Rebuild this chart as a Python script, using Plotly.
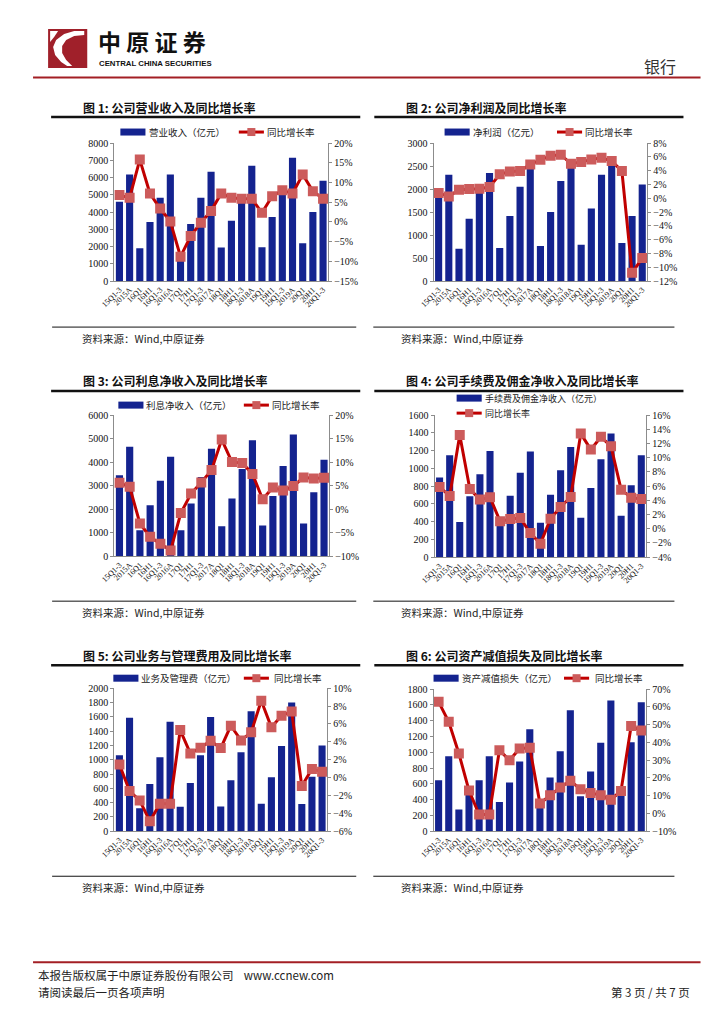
import plotly.graph_objects as go

W, H = 724, 1024
# target-pixel -> paper conversion (compensates the page placement seen in the render)
SX, OX = 0.977, 22.0
SY, OY = 0.988, 14.0
def X(px): return ((px - OX) / SX) / W
def Y(py): return 1 - ((py - OY) / SY) / H

cats = ["15Q1-3", "2015A", "16Q1", "16H1", "16Q1-3", "2016A", "17Q1", "17H1", "17Q1-3", "2017A",
        "18Q1", "18H1", "18Q1-3", "2018A", "19Q1", "19H1", "19Q1-3", "2019A", "20Q1", "20H1", "20Q1-3"]

revenue = [4600, 6170, 1900, 3420, 4830, 6170, 1500, 3310, 4830, 6330, 1940, 3500, 4950, 6690, 1960, 3710, 5300, 7150, 2190, 4000, 5810]
revenue_g = [6.8, 6.1, 15.8, 7.2, 3.4, 0.1, -8.8, -3.6, -0.2, 2.8, 7.2, 6.1, 5.9, 5.9, 2.3, 6.5, 8.0, 7.2, 12.0, 7.8, 5.9]

profit = [1850, 2310, 700, 1355, 1950, 2350, 717, 1413, 2051, 2450, 761, 1500, 2174, 2500, 790, 1580, 2312, 2717, 826, 1413, 2101]
profit_g = [0.75, 0.27, 1.24, 1.33, 1.38, 1.62, 3.46, 3.89, 3.94, 4.9, 5.58, 6.16, 6.31, 5.0, 5.24, 5.63, 5.87, 5.39, 3.94, -10.8, -8.66]

nii = [3445, 4650, 1100, 2163, 3209, 4226, 1100, 2235, 3367, 4570, 1275, 2450, 3711, 4928, 1304, 2564, 3840, 5172, 1390, 2722, 4097]
nii_g = [5.6, 4.75, -3.06, -5.9, -7.35, -8.78, -0.84, 3.31, 5.68, 8.3, 14.8, 10.0, 9.8, 7.5, 2.1, 4.6, 3.96, 4.9, 6.75, 6.5, 6.7]

fee = [896, 1148, 395, 685, 934, 1197, 360, 693, 952, 1190, 388, 704, 979, 1242, 444, 779, 1103, 1393, 467, 809, 1148]
fee_g = [5.88, 4.61, 13.2, 5.6, 4.1, 4.42, 1.04, 1.36, 1.5, -0.6, -2.1, 1.4, 3.06, 4.47, 13.4, 11.15, 12.94, 11.6, 5.5, 4.38, 4.19]

opex = [1063, 1588, 323, 660, 1035, 1532, 342, 674, 1063, 1597, 347, 712, 1105, 1677, 384, 754, 1190, 1799, 379, 763, 1199]
opex_g = [1.46, -1.5, -2.55, -4.87, -2.92, -2.92, 5.32, 2.7, 3.33, 4.12, 3.3, 5.8, 4.16, 5.06, 8.6, 5.62, 6.93, 7.38, -0.94, 0.97, 0.64]

impair = [646, 951, 275, 480, 646, 951, 372, 617, 883, 1293, 320, 680, 1014, 1534, 444, 756, 1120, 1656, 500, 1128, 1635]
impair_g = [62.9, 51.6, 33.8, 12.9, -0.6, -0.6, 35.6, 30.0, 36.6, 37.0, 5.6, 10.3, 14.6, 18.4, 13.7, 11.6, 10.3, 7.8, 12.7, 49.3, 46.7]

titles = ["图 1: 公司营业收入及同比增长率", "图 2: 公司净利润及同比增长率",
          "图 3: 公司利息净收入及同比增长率", "图 4: 公司手续费及佣金净收入及同比增长率",
          "图 5: 公司业务与管理费用及同比增长率", "图 6: 公司资产减值损失及同比增长率"]
bar_names = ["营业收入（亿元）", "净利润（亿元）", "利息净收入（亿元）",
             "手续费及佣金净收入（亿元）", "业务及管理费（亿元）", "资产减值损失（亿元）"]
line_name = "同比增长率"
source_text = "资料来源：Wind,中原证券"

BAR = "#14238f"
LINE = "#c00000"
MK = "#cc5b5b"
SERIF = "Liberation Serif"
CJK = "Noto Sans CJK SC"

charts = [
    dict(bar=revenue, g=revenue_g, l=(0, 8000, 1000), r=(-15, 20, 5), dom=(114, 327, 143, 281),
         leg=[(120, 132, 148), (238, 132, 265)]),
    dict(bar=profit, g=profit_g, l=(0, 3000, 500), r=(-12, 8, 2), dom=(432, 645, 143, 281),
         leg=[(443, 132, 470), (555, 132, 582)]),
    dict(bar=nii, g=nii_g, l=(0, 6000, 1000), r=(-10, 20, 5), dom=(114, 328, 415, 556),
         leg=[(118, 405, 145), (243, 405, 270)]),
    dict(bar=fee, g=fee_g, l=(0, 1600, 200), r=(-4, 16, 2), dom=(433, 644, 415, 557),
         leg=[(455, 398, 482), (455, 413, 482)]),
    dict(bar=opex, g=opex_g, l=(0, 2000, 200), r=(-6, 10, 2), dom=(114, 326, 688, 831),
         leg=[(113, 678, 140), (243, 678, 272)]),
    dict(bar=impair, g=impair_g, l=(0, 1800, 200), r=(-10, 70, 10), dom=(432, 644, 689, 831),
         leg=[(432, 678, 459), (562, 678, 592)]),
]

fig = go.Figure()
layout = {}
shapes = []
annotations = []
for i, c in enumerate(charts):
    n = i + 1
    ya, yb = 2 * i + 1, 2 * i + 2
    xname = "x" if n == 1 else f"x{n}"
    yname_a = "y" if ya == 1 else f"y{ya}"
    yname_b = f"y{yb}"
    fig.add_trace(go.Bar(x=cats, y=c["bar"], name=bar_names[i], marker=dict(color=BAR, line=dict(width=0)),
                         xaxis=xname, yaxis=yname_a, showlegend=False))
    fig.add_trace(go.Scatter(x=cats, y=c["g"], name=line_name, mode="lines+markers",
                             line=dict(color=LINE, width=3),
                             marker=dict(symbol="square", size=10, color=MK, line=dict(width=0)),
                             xaxis=xname, yaxis=yname_b, showlegend=False))
    x0, x1, yt, yb_ = c["dom"]
    axis_common = dict(showgrid=False, zeroline=False, showline=True, linecolor="#8c8c8c", linewidth=1,
                       ticks="outside", ticklen=3, tickcolor="#8c8c8c",
                       tickfont=dict(family=SERIF, size=10, color="#111"))
    layout["xaxis" if n == 1 else f"xaxis{n}"] = dict(
        domain=[X(x0), X(x1)], anchor=yname_a, type="category", range=[-0.5, 20.5],
        tickmode="array", tickvals=cats, ticktext=cats,
        tickangle=-45, showline=True, linecolor="#8c8c8c", ticks="", showgrid=False,
        tickfont=dict(family=SERIF, size=8, color="#111"))
    layout["yaxis" if ya == 1 else f"yaxis{ya}"] = dict(
        domain=[Y(yb_), Y(yt)], anchor=xname, range=[c["l"][0], c["l"][1]], dtick=c["l"][2], **axis_common)
    layout[f"yaxis{yb}"] = dict(
        domain=[Y(yb_), Y(yt)], anchor=xname, overlaying=yname_a, side="right",
        range=[c["r"][0], c["r"][1]], dtick=c["r"][2], ticksuffix="%", **axis_common)
    # legend (drawn manually: wide bar swatch, line with square marker)
    (bx, by, btx), (lx, ly, ltx) = c["leg"]
    fs = 9 if n == 4 else 9.5
    shapes.append(dict(type="rect", xref="paper", yref="paper", x0=X(bx), x1=X(bx + 25),
                       y0=Y(by + 3.5), y1=Y(by - 3.5), fillcolor=BAR, line=dict(width=0)))
    annotations.append(dict(text=bar_names[i], x=X(btx), y=Y(by), xref="paper", yref="paper",
                            xanchor="left", yanchor="middle", showarrow=False, borderpad=0,
                            font=dict(family=CJK, size=fs, color="#222")))
    shapes.append(dict(type="line", xref="paper", yref="paper", x0=X(lx), x1=X(lx + 25),
                       y0=Y(ly), y1=Y(ly), line=dict(color=LINE, width=3)))
    shapes.append(dict(type="rect", xref="paper", yref="paper", x0=X(lx + 8.5), x1=X(lx + 16.5),
                       y0=Y(ly + 4), y1=Y(ly - 4), fillcolor=MK, line=dict(width=0)))
    annotations.append(dict(text=line_name, x=X(ltx), y=Y(ly), xref="paper", yref="paper",
                            xanchor="left", yanchor="middle", showarrow=False, borderpad=0,
                            font=dict(family=CJK, size=fs, color="#222")))

fig.update_layout(**layout)

# header
shapes.append(dict(type="rect", xref="paper", yref="paper", x0=X(48), x1=X(87), y0=Y(68), y1=Y(29),
                   fillcolor="#a0202a", line=dict(width=0), layer="above"))
def P(pts):
    return "M " + " L ".join(f"{X(a):.5f},{Y(b):.5f}" for a, b in pts) + " Z"
shapes.append(dict(type="path", xref="paper", yref="paper",
                   path=P([(84, 31), (74, 31), (64, 34), (56, 40), (53, 47), (55, 55), (61, 62), (67, 66),
                           (72, 66), (66, 60), (62, 53), (62, 46), (66, 40), (74, 36), (84, 35)]),
                   fillcolor="white", line=dict(width=0), layer="above"))
shapes.append(dict(type="path", xref="paper", yref="paper",
                   path=P([(50, 31), (58, 31), (54, 37), (50, 42)]),
                   fillcolor="white", line=dict(width=0), layer="above"))
annotations.append(dict(text="<b>中 原 证 券</b>", x=X(97), y=Y(40.5), xref="paper", yref="paper",
                        xanchor="left", yanchor="middle", showarrow=False, borderpad=0,
                        font=dict(family=CJK, size=23, color="#111")))
annotations.append(dict(text="<b>CENTRAL CHINA SECURITIES</b>", x=X(98), y=Y(63), xref="paper", yref="paper",
                        xanchor="left", yanchor="middle", showarrow=False, borderpad=0,
                        font=dict(family="Liberation Sans", size=7.8, color="#111")))
annotations.append(dict(text="银行", x=X(676), y=Y(66), xref="paper", yref="paper", xanchor="right",
                        yanchor="middle", showarrow=False, font=dict(family=CJK, size=16, color="#333")))
shapes.append(dict(type="line", xref="paper", yref="paper", x0=X(33), x1=X(698), y0=Y(77.5), y1=Y(77.5),
                   line=dict(color="#a31f24", width=2)))

# chart titles, underlines and sources
rows = [(107, 117, 327, 338), (380, 391, 601, 612), (655, 665, 876, 887)]
cols = [(82, 51, 359, 52, 355, 80), (404, 373, 681, 372, 672, 398)]
for r, (ty, uy, sy, sty) in enumerate(rows):
    for cidx, (tx, ux0, ux1, sx0, sx1, stx) in enumerate(cols):
        k = r * 2 + cidx
        annotations.append(dict(text=f"<b>{titles[k]}</b>", x=X(tx), y=Y(ty), xref="paper", yref="paper",
                                xanchor="left", yanchor="middle", showarrow=False, borderpad=0,
                                font=dict(family=CJK, size=12, color="#111")))
        shapes.append(dict(type="line", xref="paper", yref="paper", x0=X(ux0), x1=X(ux1), y0=Y(uy), y1=Y(uy),
                           line=dict(color="#111", width=2.5)))
        shapes.append(dict(type="line", xref="paper", yref="paper", x0=X(sx0), x1=X(sx1), y0=Y(sy), y1=Y(sy),
                           line=dict(color="#111", width=1)))
        annotations.append(dict(text=source_text, x=X(stx), y=Y(sty), xref="paper", yref="paper",
                                xanchor="left", yanchor="middle", showarrow=False,
                                font=dict(family=CJK, size=10.5, color="#222")))

# footer
shapes.append(dict(type="line", xref="paper", yref="paper", x0=X(33), x1=X(698), y0=Y(962), y1=Y(962),
                   line=dict(color="#a31f24", width=2)))
annotations.append(dict(text="本报告版权属于中原证券股份有限公司    www.ccnew.com", x=X(36), y=Y(975),
                        xref="paper", yref="paper", xanchor="left", yanchor="middle", showarrow=False,
                        font=dict(family=CJK, size=11.5, color="#222")))
annotations.append(dict(text="请阅读最后一页各项声明", x=X(36), y=Y(992), xref="paper", yref="paper",
                        xanchor="left", yanchor="middle", showarrow=False,
                        font=dict(family=CJK, size=11.5, color="#222")))
annotations.append(dict(text="第 3 页 / 共 7 页", x=X(689), y=Y(992), xref="paper", yref="paper",
                        xanchor="right", yanchor="middle", showarrow=False,
                        font=dict(family=CJK, size=11.5, color="#222")))

fig.update_layout(width=W, height=H, margin=dict(l=0, r=0, t=0, b=0), paper_bgcolor="white",
                  plot_bgcolor="white", bargap=0.3, shapes=shapes, annotations=annotations,
                  font=dict(family=CJK), showlegend=False)
fig.write_html("out.html")
